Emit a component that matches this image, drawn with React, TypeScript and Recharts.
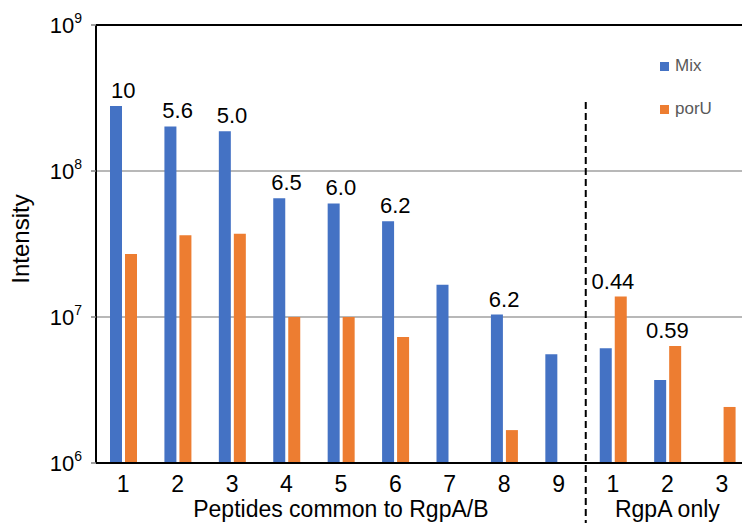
import React from 'react';
import {
  ComposedChart,
  Bar,
  Line,
  XAxis,
  YAxis,
  CartesianGrid,
  ReferenceLine,
  Legend,
  LabelList,
} from 'recharts';

const categories = ['A1', 'A2', 'A3', 'A4', 'A5', 'A6', 'A7', 'A8', 'A9', 'B1', 'B2', 'B3'];
const tickLabels = ['1', '2', '3', '4', '5', '6', '7', '8', '9', '1', '2', '3'];
const mixValues = [2.79e8, 2.02e8, 1.87e8, 6.5e7, 6.0e7, 4.52e7, 1.66e7, 1.04e7, 5.55e6, 6.1e6, 3.7e6, null];
const porUValues = [2.7e7, 3.63e7, 3.72e7, 1.0e7, 1.0e7, 7.3e6, null, 1.68e6, null, 1.38e7, 6.33e6, 2.42e6];
const ratioLabels = ['10', '5.6', '5.0', '6.5', '6.0', '6.2', '', '6.2', '', '0.44', '0.59', ''];
const groupLabels: { [k: number]: string } = { 4: 'Peptides common to RgpA/B', 10: 'RgpA only' };
const yTicks = [1e6, 1e7, 1e8, 1e9];

const data = categories.map((c, i) => {
  const m = mixValues[i];
  const p = porUValues[i];
  const top = ratioLabels[i] ? Math.max(m ?? 0, p ?? 0) : null;
  return { cat: c, tick: tickLabels[i], mix: m, poru: p, top, label: ratioLabels[i] };
});

const FONT = '"Liberation Sans", Arial, sans-serif';
const BLUE = '#4472C4';
const ORANGE = '#ED7D31';

const YTick = (props: any) => {
  const { x, y, payload } = props;
  const exp = Math.round(Math.log10(payload.value));
  return (
    <text x={x} y={y + 8} textAnchor="end" fontFamily={FONT} fill="#000">
      <tspan fontSize={22}>10</tspan>
      <tspan fontSize={14} dy={-10}>{exp}</tspan>
    </text>
  );
};

const XTick = (props: any) => {
  const { x, y, payload, index } = props;
  const idx = typeof index === 'number' ? index : categories.indexOf(payload.value);
  const g = groupLabels[idx];
  return (
    <g>
      <text x={x} y={y + 29} textAnchor="middle" fontFamily={FONT} fontSize={23} fill="#000">
        {tickLabels[idx]}
      </text>
      {g ? (
        <text x={x} y={y + 54} textAnchor="middle" fontFamily={FONT} fontSize={23} fill="#000">
          {g}
        </text>
      ) : null}
    </g>
  );
};

const RatioLabel = (props: any) => {
  const { x, y, index } = props;
  const txt = ratioLabels[index];
  if (!txt || y == null || isNaN(y)) return null;
  return (
    <text x={x} y={y - 8} textAnchor="middle" fontFamily={FONT} fontSize={22} fill="#000">
      {txt}
    </text>
  );
};

const LegendContent = () => {
  const items = [
    { name: 'Mix', color: BLUE },
    { name: 'porU', color: ORANGE },
  ];
  return (
    <div style={{ fontFamily: FONT }}>
      {items.map((it) => (
        <div key={it.name} style={{ display: 'flex', alignItems: 'center', height: 20, marginBottom: 23 }}>
          <div style={{ width: 9, height: 9, background: it.color, marginRight: 6 }} />
          <span style={{ fontSize: 17, color: '#595959' }}>{it.name}</span>
        </div>
      ))}
    </div>
  );
};

export default function App() {
  return (
    <div style={{ position: 'absolute', left: 0, top: 0, width: 742, height: 523, overflow: 'hidden', background: '#fff' }}>
      <ComposedChart
        width={760}
        height={523}
        data={data}
        margin={{ top: 25, right: 11, bottom: 0, left: 0 }}
        barSize={12}
        barGap={3}
      >
        <CartesianGrid horizontal vertical={false} stroke="#a0a0a0" strokeWidth={1.5} />
        <XAxis
          dataKey="cat"
          height={60}
          tickLine={false}
          tickSize={0}
          tickMargin={0}
          axisLine={{ stroke: '#000', strokeWidth: 2 }}
          tick={<XTick />}
          interval={0}
        />
        <YAxis
          scale="log"
          domain={[1e6, 1e9]}
          ticks={yTicks}
          allowDataOverflow
          width={96}
          tickSize={5}
          tickMargin={9}
          tickLine={{ stroke: '#808080', strokeWidth: 1.5 }}
          axisLine={{ stroke: '#000', strokeWidth: 2 }}
          tick={<YTick />}
          label={{
            value: 'Intensity',
            angle: -90,
            position: 'insideLeft',
            offset: 0,
            style: { fontFamily: FONT, fontSize: 24, fill: '#000', textAnchor: 'middle' },
            dx: 20,
            dy: -5,
          }}
        />
        <ReferenceLine y={1e9} stroke="#000" strokeWidth={2} />
        <Bar dataKey="mix" name="Mix" fill={BLUE} isAnimationActive={false} />
        <Bar dataKey="poru" name="porU" fill={ORANGE} isAnimationActive={false} />
        <Line
          dataKey="top"
          stroke="none"
          dot={false}
          activeDot={false}
          legendType="none"
          isAnimationActive={false}
        >
          <LabelList dataKey="top" content={<RatioLabel />} />
        </Line>
        <ReferenceLine
          segment={[
            { x: 'A9', y: 2.97e8 },
            { x: 'A9', y: 3.88e5 },
          ]}
          position="end"
          ifOverflow="visible"
          stroke="#000"
          strokeWidth={2}
          strokeDasharray="7 4"
        />
        <Legend
          layout="horizontal"
          verticalAlign="middle"
          align="center"
          content={<LegendContent />}
          wrapperStyle={{ position: 'absolute', left: 660, top: 56, width: 80, height: 70 }}
        />
      </ComposedChart>
    </div>
  );
}
